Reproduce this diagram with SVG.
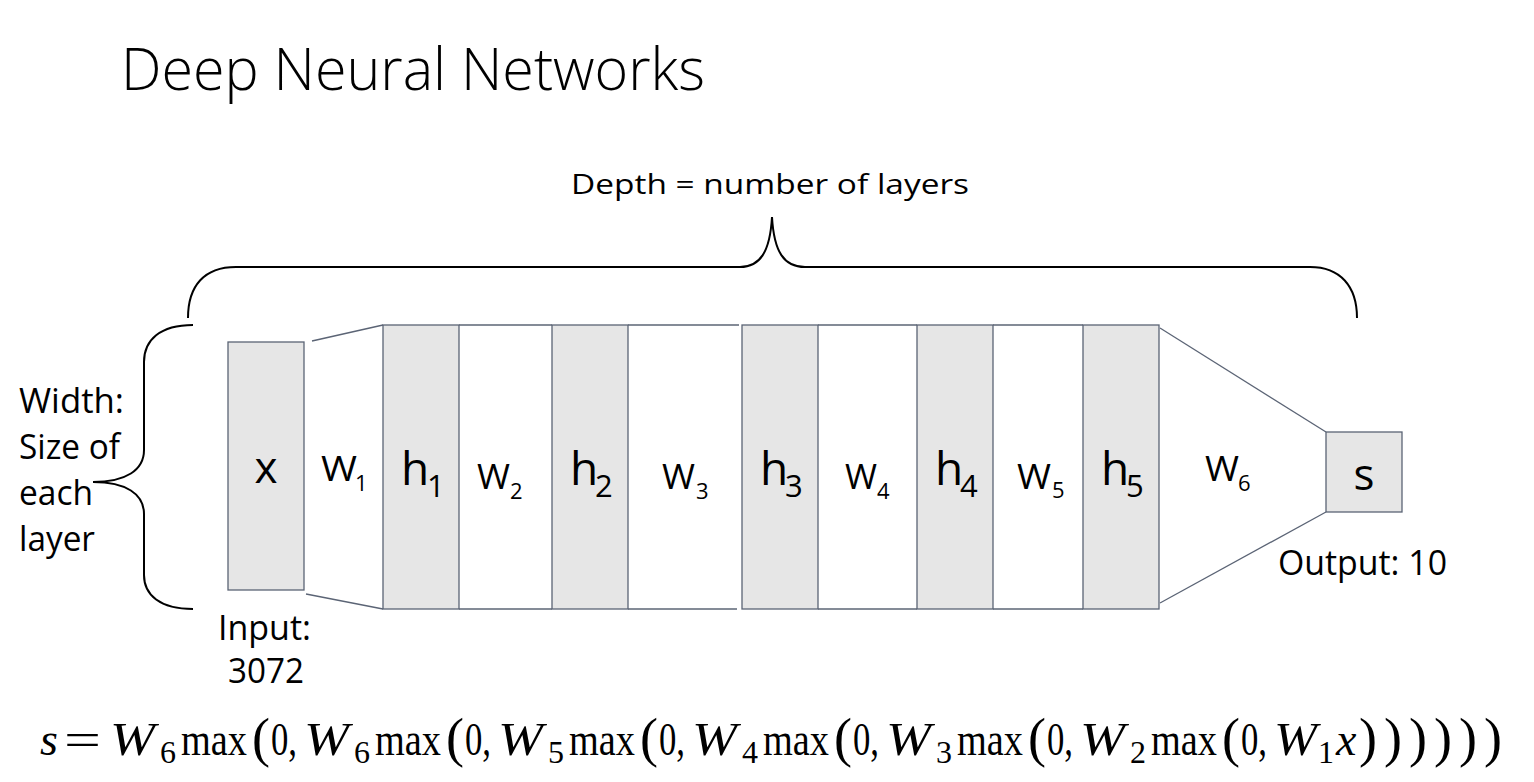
<svg xmlns="http://www.w3.org/2000/svg" width="1534" height="782" viewBox="0 0 1534 782">
<style>
.lbl{font-family:"Open Sans","Liberation Sans",sans-serif;fill:#000}
.box{fill:#e6e6e6;stroke:#5b6475;stroke-width:1.3}
.ln{stroke:#5b6475;stroke-width:1.3;fill:none}
.brace{stroke:#000;stroke-width:2;fill:none}
.fm{font-family:"Liberation Serif","DejaVu Serif",serif;font-size:46px;fill:#000}
.fi{font-style:italic}
.fs{font-size:32px}
.fp{font-size:54px}
</style>
<rect width="1534" height="782" fill="#fff"/>
<text class="lbl" x="121" y="90" font-size="59" font-weight="300" textLength="584" lengthAdjust="spacingAndGlyphs">Deep Neural Networks</text>
<g id="depth-label">
<text class="lbl" x="571" y="194" font-size="28" textLength="398" lengthAdjust="spacingAndGlyphs">Depth = number of layers</text>
<path class="brace" d="M188,318 C188,286 204,267 236,267 L740,267 C760,267 770,252 772,217 C774,252 784,267 805,267 L1310,267 C1340,267 1357,286 1357,318"/>
</g>
<g id="width-label">
<path class="brace" d="M193,325 C160,325 144,340 144,362 L144,450 C144,470 126,482 93,482 C126,482 144,494 144,514 L144,575 C144,595 160,609 193,609"/>
<text class="lbl" x="19" y="413" font-size="35" textLength="105" lengthAdjust="spacingAndGlyphs">Width:</text>
<text class="lbl" x="19" y="459" font-size="35" textLength="101" lengthAdjust="spacingAndGlyphs">Size of</text>
<text class="lbl" x="19" y="505" font-size="35" textLength="74" lengthAdjust="spacingAndGlyphs">each</text>
<text class="lbl" x="19" y="551" font-size="35" textLength="76" lengthAdjust="spacingAndGlyphs">layer</text>
</g>
<g id="connectors">
<line class="ln" x1="312" y1="341" x2="383" y2="325"/>
<line class="ln" x1="306" y1="594" x2="383" y2="609"/>
<line class="ln" x1="459" y1="325" x2="552" y2="325"/>
<line class="ln" x1="459" y1="609" x2="552" y2="609"/>
<line class="ln" x1="628" y1="325" x2="739" y2="325"/>
<line class="ln" x1="628" y1="609" x2="737" y2="609"/>
<line class="ln" x1="818" y1="325" x2="917" y2="325"/>
<line class="ln" x1="818" y1="609" x2="917" y2="609"/>
<line class="ln" x1="993" y1="325" x2="1083" y2="325"/>
<line class="ln" x1="993" y1="609" x2="1083" y2="609"/>
<line class="ln" x1="1160" y1="328" x2="1326" y2="432"/>
<line class="ln" x1="1160" y1="603" x2="1326" y2="512"/>
</g>
<g id="node-x">
<rect class="box" x="228" y="342" width="76" height="248"/>
<text class="lbl" x="266" y="483" font-size="44" text-anchor="middle">x</text>
<text class="lbl" x="218" y="640" font-size="35" textLength="93" lengthAdjust="spacingAndGlyphs">Input:</text>
<text class="lbl" x="228" y="683" font-size="35" textLength="76" lengthAdjust="spacingAndGlyphs">3072</text>
</g>
<g id="w1"><text class="lbl" x="321" y="481" font-size="35" textLength="36" lengthAdjust="spacingAndGlyphs">W</text><text class="lbl" x="355" y="491" font-size="22">1</text></g>
<g id="node-h1">
<rect class="box" x="383" y="325" width="76" height="284"/>
<text class="lbl" x="401" y="485" font-size="46">h</text><text class="lbl" x="427" y="497" font-size="31">1</text>
</g>
<g id="w2"><text class="lbl" x="477" y="489" font-size="35" textLength="33" lengthAdjust="spacingAndGlyphs">W</text><text class="lbl" x="510" y="499" font-size="22">2</text></g>
<g id="node-h2">
<rect class="box" x="552" y="325" width="76" height="284"/>
<text class="lbl" x="570" y="485" font-size="46">h</text><text class="lbl" x="595" y="497" font-size="31">2</text>
</g>
<g id="w3"><text class="lbl" x="662" y="489" font-size="35" textLength="33" lengthAdjust="spacingAndGlyphs">W</text><text class="lbl" x="696" y="499" font-size="22">3</text></g>
<g id="node-h3">
<rect class="box" x="742" y="325" width="76" height="284"/>
<text class="lbl" x="760" y="485" font-size="46">h</text><text class="lbl" x="785" y="497" font-size="31">3</text>
</g>
<g id="w4"><text class="lbl" x="845" y="489" font-size="35" textLength="32" lengthAdjust="spacingAndGlyphs">W</text><text class="lbl" x="877" y="499" font-size="22">4</text></g>
<g id="node-h4">
<rect class="box" x="917" y="325" width="76" height="284"/>
<text class="lbl" x="935" y="485" font-size="46">h</text><text class="lbl" x="960" y="497" font-size="31">4</text>
</g>
<g id="w5"><text class="lbl" x="1017" y="489" font-size="35" textLength="34" lengthAdjust="spacingAndGlyphs">W</text><text class="lbl" x="1052" y="498" font-size="22">5</text></g>
<g id="node-h5">
<rect class="box" x="1083" y="325" width="76" height="284"/>
<text class="lbl" x="1101" y="485" font-size="46">h</text><text class="lbl" x="1126" y="497" font-size="31">5</text>
</g>
<g id="w6"><text class="lbl" x="1205" y="481" font-size="35" textLength="34" lengthAdjust="spacingAndGlyphs">W</text><text class="lbl" x="1238" y="491" font-size="22">6</text></g>
<g id="node-s">
<rect class="box" x="1326" y="432" width="76" height="80"/>
<text class="lbl" x="1364" y="490" font-size="44" text-anchor="middle">s</text>
<text class="lbl" x="1278" y="575" font-size="35" textLength="169" lengthAdjust="spacingAndGlyphs">Output: 10</text>
</g>
<g id="formula" class="fm">
<text class="fi" x="40" y="755">s</text>
<text x="64" y="755" textLength="37" lengthAdjust="spacingAndGlyphs">=</text>
<text class="fi" x="110" y="755" textLength="45" lengthAdjust="spacingAndGlyphs">W</text><text class="fs" x="160" y="763">6</text>
<text x="181" y="755" textLength="66" lengthAdjust="spacingAndGlyphs">max</text><text class="fp" x="252" y="756">(</text><text x="271" y="755" textLength="26" lengthAdjust="spacingAndGlyphs">0,</text>
<text class="fi" x="304" y="755" textLength="45" lengthAdjust="spacingAndGlyphs">W</text><text class="fs" x="354" y="763">6</text>
<text x="375" y="755" textLength="66" lengthAdjust="spacingAndGlyphs">max</text><text class="fp" x="446" y="756">(</text><text x="465" y="755" textLength="26" lengthAdjust="spacingAndGlyphs">0,</text>
<text class="fi" x="498" y="755" textLength="45" lengthAdjust="spacingAndGlyphs">W</text><text class="fs" x="548" y="763">5</text>
<text x="569" y="755" textLength="66" lengthAdjust="spacingAndGlyphs">max</text><text class="fp" x="640" y="756">(</text><text x="659" y="755" textLength="26" lengthAdjust="spacingAndGlyphs">0,</text>
<text class="fi" x="692" y="755" textLength="45" lengthAdjust="spacingAndGlyphs">W</text><text class="fs" x="742" y="763">4</text>
<text x="763" y="755" textLength="66" lengthAdjust="spacingAndGlyphs">max</text><text class="fp" x="834" y="756">(</text><text x="853" y="755" textLength="26" lengthAdjust="spacingAndGlyphs">0,</text>
<text class="fi" x="886" y="755" textLength="45" lengthAdjust="spacingAndGlyphs">W</text><text class="fs" x="936" y="763">3</text>
<text x="957" y="755" textLength="66" lengthAdjust="spacingAndGlyphs">max</text><text class="fp" x="1028" y="756">(</text><text x="1047" y="755" textLength="26" lengthAdjust="spacingAndGlyphs">0,</text>
<text class="fi" x="1080" y="755" textLength="45" lengthAdjust="spacingAndGlyphs">W</text><text class="fs" x="1130" y="763">2</text>
<text x="1151" y="755" textLength="66" lengthAdjust="spacingAndGlyphs">max</text><text class="fp" x="1222" y="756">(</text><text x="1241" y="755" textLength="26" lengthAdjust="spacingAndGlyphs">0,</text>
<text class="fi" x="1274" y="755" textLength="43" lengthAdjust="spacingAndGlyphs">W</text><text class="fs" x="1318" y="763">1</text>
<text class="fi" x="1336" y="755">x</text>
<text class="fp" x="1359" y="756">)</text><text class="fp" x="1384" y="756">)</text><text class="fp" x="1409" y="756">)</text><text class="fp" x="1434" y="756">)</text><text class="fp" x="1459" y="756">)</text><text class="fp" x="1484" y="756">)</text>
</g>
</svg>
